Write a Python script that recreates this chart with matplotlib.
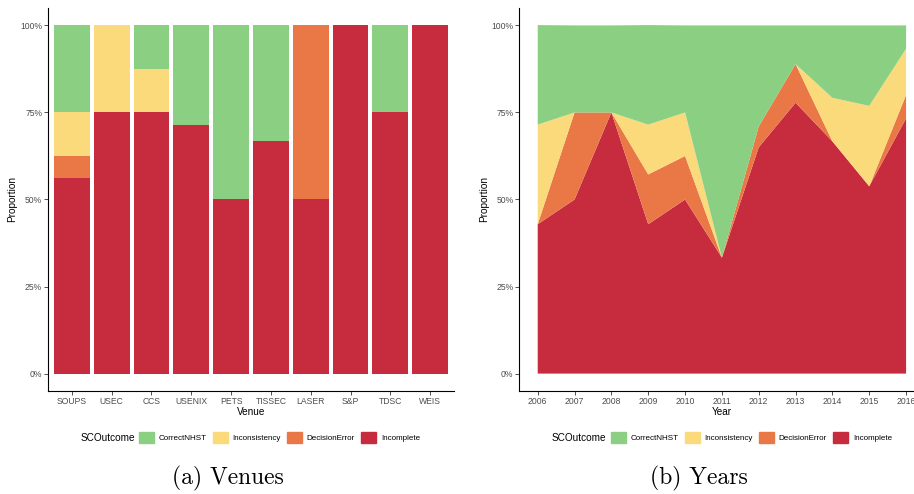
import matplotlib
matplotlib.use('Agg')
import matplotlib.pyplot as plt
import matplotlib.patches as mpatches
import numpy as np

plt.rcParams['font.family'] = ['Liberation Sans', 'DejaVu Sans']

# outcome categories, bottom of the stack first
outcomes = ['Incomplete', 'DecisionError', 'Inconsistency', 'CorrectNHST']
colors = {'CorrectNHST': '#8BD082', 'Inconsistency': '#FADA7A',
          'DecisionError': '#EA7846', 'Incomplete': '#C72B3E'}

# (a) venues
venues = ['SOUPS', 'USEC', 'CCS', 'USENIX', 'PETS', 'TISSEC', 'LASER', 'S&P', 'TDSC', 'WEIS']
v_incomplete = [0.5625, 0.75, 0.75, 0.714, 0.5, 0.667, 0.5, 1.0, 0.75, 1.0]
v_decision = [0.0625, 0, 0, 0, 0, 0, 0.5, 0, 0, 0]
v_inconsistency = [0.125, 0.25, 0.125, 0, 0, 0, 0, 0, 0, 0]
v_correct = [0.25, 0, 0.125, 0.286, 0.5, 0.333, 0, 0, 0.25, 0]

# (b) years
years = [2006, 2007, 2008, 2009, 2010, 2011, 2012, 2013, 2014, 2015, 2016]
y_incomplete = [0.429, 0.5, 0.75, 0.429, 0.5, 0.333, 0.65, 0.778, 0.667, 0.538, 0.733]
y_decision = [0, 0.25, 0, 0.143, 0.125, 0, 0.06, 0.111, 0, 0, 0.067]
y_inconsistency = [0.286, 0, 0, 0.143, 0.125, 0, 0, 0, 0.125, 0.231, 0.133]
y_correct = [0.286, 0.25, 0.25, 0.286, 0.25, 0.667, 0.29, 0.111, 0.208, 0.231, 0.067]

W, H = 914, 494
fig = plt.figure(figsize=(W / 100, H / 100), dpi=100)

def px_axes(x0, y0, x1, y1):
    return fig.add_axes([x0 / W, 1 - y1 / H, (x1 - x0) / W, (y1 - y0) / H])

ax1 = px_axes(48, 8, 454, 391)
ax2 = px_axes(519.3, 8, 924.5, 391)

def style(ax):
    for s in ['top', 'right']:
        ax.spines[s].set_visible(False)
    for s in ['left', 'bottom']:
        ax.spines[s].set_linewidth(0.8)
        ax.spines[s].set_color('black')
    ax.set_ylim(-0.05, 1.05)
    ax.set_yticks([0, 0.25, 0.5, 0.75, 1.0])
    ax.set_yticklabels(['0%', '25%', '50%', '75%', '100%'])
    ax.tick_params(length=3, width=0.6, color='#333333', labelcolor='#4D4D4D',
                   labelsize=6.2, pad=1.2)
    ax.set_ylabel('Proportion', fontsize=7.2, labelpad=2)

# venue bars
x = np.arange(1, len(venues) + 1)
series_v = {'Incomplete': v_incomplete, 'DecisionError': v_decision,
            'Inconsistency': v_inconsistency, 'CorrectNHST': v_correct}
bottom = np.zeros(len(venues))
for name in outcomes:
    vals = np.array(series_v[name])
    ax1.bar(x, vals, bottom=bottom, width=0.9, color=colors[name], linewidth=0)
    bottom += vals
ax1.set_xlim(0.4, len(venues) + 0.6)
ax1.set_xticks(x)
ax1.set_xticklabels(venues)
style(ax1)
ax1.set_xlabel('Venue', fontsize=7.2, labelpad=1)

# year areas
ax2.stackplot(years, y_incomplete, y_decision, y_inconsistency, y_correct,
              colors=[colors[n] for n in outcomes], linewidth=0)
ax2.set_xlim(2005.5, 2016.5)
ax2.set_xticks(years)
style(ax2)
ax2.set_xlabel('Year', fontsize=7.2, labelpad=1)

# legends with the title on the left, like ggplot bottom legends
def add_legend(title_x, keys_x, yc):
    handles = [mpatches.Patch(color=colors[n], label=n) for n in outcomes[::-1]]
    fig.text(title_x / W, 1 - yc / H, 'SCOutcome', fontsize=7.2, va='center', ha='left')
    fig.legend(handles=handles, loc='center left',
               bbox_to_anchor=(keys_x / W, 1 - yc / H), bbox_transform=fig.transFigure,
               ncol=4, frameon=False, fontsize=5.8, borderpad=0, borderaxespad=0,
               handlelength=1.85, handleheight=1.85, handletextpad=0.6,
               columnspacing=0.75)

add_legend(81, 139, 437.5)
add_legend(552, 611, 437.5)

# sub captions
fig.text(228 / W, 1 - 478 / H, '(a) Venues', family='cmr10', fontsize=17,
         ha='center', va='center')
fig.text(699 / W, 1 - 478 / H, '(b) Years', family='cmr10', fontsize=17,
         ha='center', va='center')

fig.savefig('out.png', dpi=100)
